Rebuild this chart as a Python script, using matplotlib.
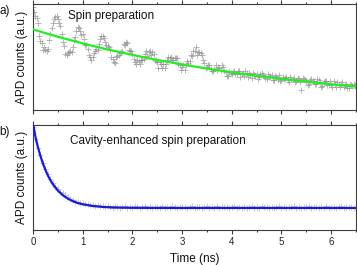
import numpy as np
import matplotlib
matplotlib.use("Agg")
import matplotlib.pyplot as plt
from matplotlib.ticker import MultipleLocator

plt.rcParams['font.family'] = ['Liberation Sans', 'DejaVu Sans']

# ---------------- data ----------------
time_step = 0.05
# panel a: spin preparation, measured counts (normalised), bins at 0, 0.05, ... 6.5 ns
counts_a = [
    0.97, 0.89, 0.82, 0.65, 0.57, 0.57, 0.58, 0.72, 0.82, 0.88,
    0.86, 0.79, 0.64, 0.53, 0.54, 0.56, 0.59, 0.69, 0.78, 0.75,
    0.72, 0.61, 0.58, 0.50, 0.50, 0.56, 0.57, 0.67, 0.70, 0.64,
    0.60, 0.57, 0.48, 0.44, 0.51, 0.54, 0.56, 0.61, 0.63, 0.56,
    0.53, 0.45, 0.47, 0.43, 0.47, 0.53, 0.51, 0.56, 0.55, 0.47,
    0.45, 0.45, 0.40, 0.40, 0.47, 0.49, 0.47, 0.49, 0.49, 0.42,
    0.41, 0.38, 0.46, 0.46, 0.51, 0.56, 0.52, 0.55, 0.52, 0.44,
    0.41, 0.42, 0.37, 0.39, 0.38, 0.40, 0.42, 0.37, 0.32, 0.36,
    0.34, 0.37, 0.34, 0.37, 0.34, 0.32, 0.35, 0.35, 0.30, 0.33,
    0.34, 0.31, 0.35, 0.32, 0.29, 0.31, 0.33, 0.28, 0.31, 0.33,
    0.28, 0.29, 0.31, 0.26, 0.29, 0.30, 0.27, 0.29, 0.19, 0.29,
    0.27, 0.25, 0.29, 0.27, 0.25, 0.28, 0.22, 0.26, 0.27, 0.24,
    0.24, 0.27, 0.22, 0.25, 0.25, 0.22, 0.25, 0.21, 0.24, 0.25,
    0.21,
]
# panel a: measured counts in the interleaved bins 0.025, 0.075, ... 6.475 ns
counts_a_mid = [
    0.92, 0.87, 0.70, 0.63, 0.59, 0.56, 0.66, 0.77, 0.86, 0.89,
    0.82, 0.72, 0.60, 0.52, 0.55, 0.55, 0.66, 0.75, 0.77, 0.71,
    0.67, 0.61, 0.52, 0.47, 0.54, 0.58, 0.62, 0.70, 0.68, 0.61,
    0.59, 0.50, 0.45, 0.50, 0.52, 0.55, 0.62, 0.64, 0.57, 0.56,
    0.48, 0.43, 0.46, 0.47, 0.48, 0.56, 0.55, 0.52, 0.53, 0.46,
    0.40, 0.43, 0.43, 0.43, 0.50, 0.50, 0.47, 0.49, 0.43, 0.38,
    0.42, 0.42, 0.44, 0.52, 0.56, 0.59, 0.55, 0.54, 0.47, 0.40,
    0.42, 0.39, 0.37, 0.42, 0.41, 0.38, 0.41, 0.36, 0.32, 0.35,
    0.36, 0.34, 0.37, 0.31, 0.35, 0.37, 0.31, 0.33, 0.35, 0.32,
    0.29, 0.34, 0.33, 0.30, 0.34, 0.32, 0.28, 0.32, 0.29, 0.27,
    0.31, 0.30, 0.28, 0.31, 0.29, 0.26, 0.30, 0.26, 0.30, 0.28,
    0.24, 0.28, 0.27, 0.25, 0.29, 0.26, 0.23, 0.27, 0.24, 0.27,
    0.22, 0.25, 0.26, 0.22, 0.26, 0.24, 0.21, 0.25, 0.23, 0.24,
]
# panel a: exponential fit (green)
fit_a_t = [0.0, 0.5, 1.0, 1.5, 2.0, 2.5, 3.0, 3.5, 4.0, 4.5, 5.0, 5.5, 6.0, 6.5]
fit_a_v = [0.760, 0.691, 0.628, 0.571, 0.520, 0.472, 0.430, 0.391,
           0.355, 0.323, 0.294, 0.267, 0.243, 0.221]

# panel b: cavity-enhanced spin preparation, measured counts
counts_b = [
    0.98, 0.87, 0.78, 0.71, 0.64, 0.58, 0.53, 0.49, 0.45, 0.41,
    0.39, 0.36, 0.35, 0.33, 0.31, 0.30, 0.29, 0.27, 0.27, 0.26,
    0.255, 0.25, 0.245, 0.24, 0.24, 0.23, 0.235, 0.225, 0.23, 0.22,
    0.225, 0.222, 0.212, 0.226, 0.216, 0.209, 0.220, 0.228, 0.214, 0.218,
    0.210, 0.224, 0.215, 0.208, 0.221, 0.226, 0.213, 0.217, 0.211, 0.223,
    0.219, 0.209, 0.225, 0.214, 0.218, 0.212, 0.227, 0.216, 0.210, 0.221,
    0.215, 0.223, 0.208, 0.219, 0.226, 0.213, 0.217, 0.222, 0.210, 0.216,
    0.224, 0.211, 0.218, 0.214, 0.227, 0.209, 0.220, 0.215, 0.223, 0.212,
    0.217, 0.225, 0.210, 0.219, 0.214, 0.222, 0.208, 0.216, 0.226, 0.213,
    0.218, 0.211, 0.224, 0.215, 0.220, 0.209, 0.223, 0.214, 0.217, 0.225,
    0.212, 0.219, 0.210, 0.222, 0.216, 0.227, 0.213, 0.218, 0.211, 0.221,
    0.215, 0.224, 0.209, 0.217, 0.223, 0.212, 0.219, 0.214, 0.226, 0.210,
    0.218, 0.222, 0.213, 0.216, 0.225, 0.211, 0.220, 0.215, 0.223, 0.212,
    0.217,
]
# panel b: exponential fit (blue)
fit_b_t = [0.0, 0.05, 0.1, 0.15, 0.2, 0.25, 0.3, 0.35, 0.4, 0.5, 0.6, 0.7,
           0.8, 0.9, 1.0, 1.2, 1.4, 1.6, 1.8, 2.0, 2.5, 3.0, 4.0, 5.0, 6.0, 6.5]
fit_b_v = [1.02, 0.886, 0.788, 0.704, 0.633, 0.572, 0.519, 0.475, 0.436,
           0.376, 0.331, 0.299, 0.275, 0.257, 0.245, 0.229, 0.220, 0.215,
           0.213, 0.2115, 0.2103, 0.210, 0.210, 0.210, 0.210, 0.210]

titles = ["Spin preparation", "Cavity-enhanced spin preparation"]
panel_tags = ["a)", "b)"]
ylabel = "APD counts (a.u.)"
xlabel = "Time (ns)"

t_a = np.arange(len(counts_a)) * time_step
t_a_mid = np.arange(len(counts_a_mid)) * time_step + time_step / 2
t_b = np.arange(len(counts_b)) * time_step

# ---------------- figure ----------------
W, H = 357, 265
fig = plt.figure(figsize=(W / 100, H / 100), dpi=100)

def box(x0, y0, x1, y1):
    return [x0 / W, 1 - y1 / H, (x1 - x0) / W, (y1 - y0) / H]

ax_a = fig.add_axes(box(33, 4, 356, 110))
ax_b = fig.add_axes(box(33, 125, 356, 230))

spine_col = '#3c3c3c'
mk_col = '#8e8e8e'

for ax in (ax_a, ax_b):
    ax.set_xlim(0, 6.5)
    ax.set_ylim(0, 1)
    ax.set_yticks([])
    ax.xaxis.set_major_locator(MultipleLocator(1))
    ax.xaxis.set_minor_locator(MultipleLocator(0.5))
    ax.tick_params(axis='x', which='both', direction='out', top=True,
                   bottom=True, color=spine_col, width=0.8, labelsize=7,
                   pad=2.5, labelcolor='#222222')
    ax.tick_params(axis='x', which='major', length=2.6)
    ax.tick_params(axis='x', which='minor', length=1.5)
    for s in ax.spines.values():
        s.set_color(spine_col)
        s.set_linewidth(0.8)

ax_a.tick_params(axis='x', labelbottom=False)

mk = dict(linestyle='none', marker='+', markersize=4.2, markeredgewidth=0.6,
          color=mk_col, zorder=2)
ax_a.plot(t_a, counts_a, alpha=0.75, **mk)
ax_a.plot(t_a_mid, counts_a_mid, alpha=0.75, **mk)
ax_a.plot(fit_a_t, fit_a_v, color='#22ee22', lw=1.6, zorder=3)

ax_b.plot(t_b, counts_b, alpha=0.55, **mk)
ax_b.plot(fit_b_t, fit_b_v, color='#1a1ad8', lw=1.6, zorder=3)

ax_a.text(0.7, 0.887, titles[0], fontsize=8.5, va='center', ha='left',
          color='#111111')
ax_b.text(0.74, 0.848, titles[1], fontsize=8.5, va='center', ha='left',
          color='#111111')

ax_b.set_xlabel(xlabel, fontsize=8.5, labelpad=4, color='#111111')

fig.text(22 / W, 1 - 57 / H, ylabel, rotation=90, fontsize=8.5,
         ha='center', va='center', color='#111111')
fig.text(22 / W, 1 - 177 / H, ylabel, rotation=90, fontsize=8.5,
         ha='center', va='center', color='#111111')
fig.text(5 / W, 1 - 11 / H, panel_tags[0], fontsize=8.5, ha='center',
         va='center', color='#111111')
fig.text(5 / W, 1 - 132 / H, panel_tags[1], fontsize=8.5, ha='center',
         va='center', color='#111111')

fig.savefig("out.png", dpi=100)
